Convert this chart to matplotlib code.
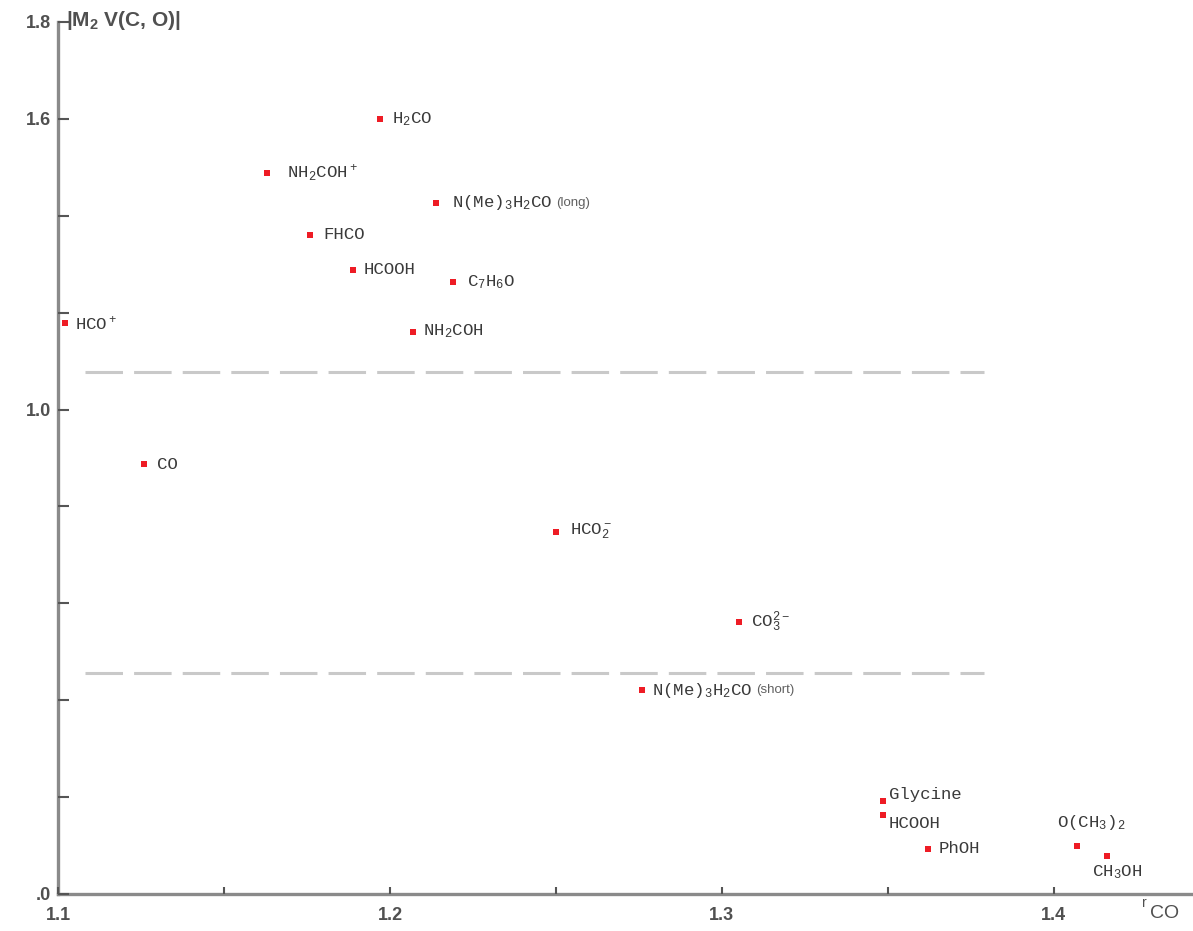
import matplotlib
matplotlib.use('Agg')
import matplotlib.pyplot as plt

# r_CO vs |M2 V(C,O)| values
names = ['H$_2$CO', 'NH$_2$COH$^+$', 'N(Me)$_3$H$_2$CO', 'FHCO', 'HCOOH', 'C$_7$H$_6$O',
         'HCO$^+$', 'NH$_2$COH', 'CO', 'HCO$_2^-$', 'CO$_3^{2-}$', 'N(Me)$_3$H$_2$CO',
         'Glycine', 'HCOOH', 'PhOH', 'O(CH$_3$)$_2$', 'CH$_3$OH']
notes = ['', '', '(long)', '', '', '', '', '', '', '', '', '(short)', '', '', '', '', '']
r_co = [1.197, 1.163, 1.214, 1.176, 1.189, 1.219, 1.102, 1.207, 1.126, 1.250, 1.305, 1.276,
        1.3485, 1.3485, 1.362, 1.407, 1.416]
m2v = [1.600, 1.489, 1.427, 1.361, 1.289, 1.264, 1.179, 1.161, 0.887, 0.748, 0.561, 0.421,
       0.192, 0.163, 0.093, 0.099, 0.078]
# label offsets in pixels (dx, dy, ha)
offsets = [(12, 0, 'left'), (20, 0, 'left'), (16, 0, 'left'), (13, 0, 'left'), (10, 0, 'left'),
           (14, 0, 'left'), (10, 0, 'left'), (10, 0, 'left'), (13, 0, 'left'), (14, 0, 'left'),
           (12, 0, 'left'), (10, 0, 'left'), (6, 6, 'left'), (6, -8, 'left'), (11, 0, 'left'),
           (14, 24, 'center'), (10, -16, 'center')]
dash_levels = [1.078, 0.456]

plt.rcParams['lines.scale_dashes'] = False
plt.rcParams['mathtext.default'] = 'regular'

fig = plt.figure(figsize=(11.93, 9.31), dpi=100)
ax = fig.add_axes([58 / 1193, 37 / 931, 1135 / 1193, 872 / 931])
ax.set_xlim(1.1, 1.4419)
ax.set_ylim(0, 1.8)

axis_col = '#8a8a8a'
txt_col = '#505050'
for s in ['top', 'right']:
    ax.spines[s].set_visible(False)
for s in ['left', 'bottom']:
    ax.spines[s].set_color(axis_col)
    ax.spines[s].set_linewidth(2.4)
ax.spines['left'].set_zorder(1)
ax.spines['bottom'].set_zorder(1)

for lv in dash_levels:
    ax.plot([1.108, 1.379], [lv, lv], color='#c9c9c9', lw=2.2, dashes=(27, 8), zorder=1)

ax.scatter(r_co, m2v, marker='s', s=22, color='#ee1c25', linewidths=0, zorder=3, clip_on=False)

for i in range(len(names)):
    dx, dy, ha = offsets[i]
    t = ax.annotate(names[i], (r_co[i], m2v[i]), xytext=(dx, dy), textcoords='offset pixels',
                    ha=ha, va='center', fontsize=12.5, family='Liberation Mono', color='#3a3a3a')
    if notes[i]:
        ax.annotate(notes[i], xy=(1, 0.5), xycoords=t, xytext=(3, 0), textcoords='offset pixels',
                    ha='left', va='center', fontsize=9.5, family='Liberation Sans', color='#606060')

ax.set_xticks([1.1, 1.15, 1.2, 1.25, 1.3, 1.35, 1.4])
ax.set_xticklabels(['1.1', '', '1.2', '', '1.3', '', '1.4'])
ax.set_yticks([0.0, 0.2, 0.4, 0.6, 0.8, 1.0, 1.2, 1.4, 1.6, 1.8])
ax.set_yticklabels(['.0', '', '', '', '', '1.0', '', '', '1.6', '1.8'])
ax.tick_params(axis='x', direction='in', length=5, width=1.5, color='#555555', pad=9,
               labelsize=13, labelcolor=txt_col)
ax.tick_params(axis='y', direction='in', length=8, width=1.5, color='#555555', pad=5,
               labelsize=13, labelcolor=txt_col)
for lab in ax.get_xticklabels() + ax.get_yticklabels():
    lab.set_fontweight('bold')
    lab.set_family('Liberation Sans')

fig.text(66 / 1193, 1 - 20 / 931, '|M$_2$ V(C, O)|', ha='left', va='center', fontsize=15,
         fontweight='bold', family='Liberation Sans', color=txt_col)
fig.text(1142 / 1193, 1 - 903 / 931, 'r', ha='left', va='center', fontsize=10,
         family='Liberation Sans', color=txt_col)
fig.text(1150 / 1193, 1 - 913 / 931, 'CO', ha='left', va='center', fontsize=14,
         family='Liberation Sans', color=txt_col)

fig.savefig('out.png', dpi=100)
